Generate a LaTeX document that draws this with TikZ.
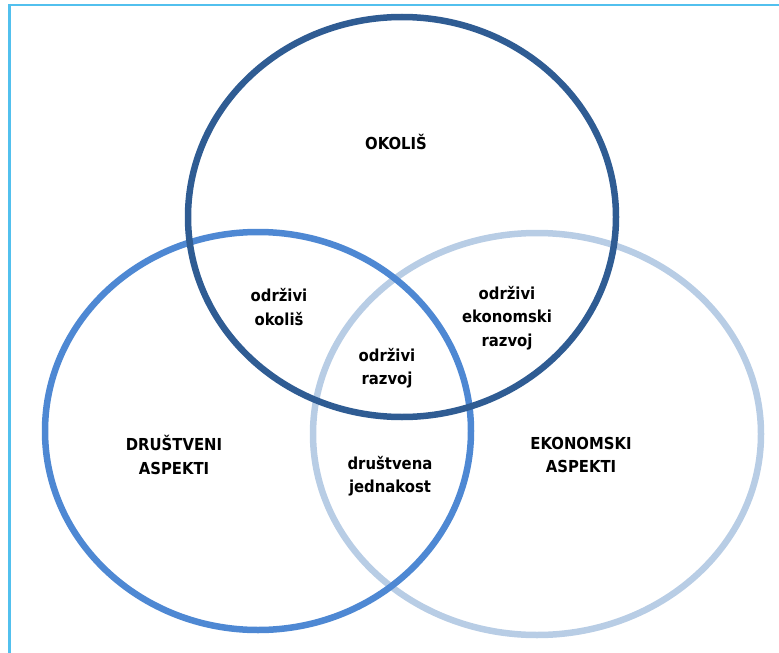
\documentclass[tikz,border=0pt]{standalone}
\usepackage{fontspec}
\setmainfont{DejaVu Sans Condensed}
\definecolor{framec}{HTML}{52C0EE}
\definecolor{darkc}{HTML}{2F5C93}
\definecolor{midc}{HTML}{4E88D3}
\definecolor{lightc}{HTML}{B8CDE5}
\tikzset{
  ring/.style={line width=6.5pt},
  lbl/.style={align=center, font=\bfseries\fontsize{16.5}{23.5}\selectfont, text=black, inner sep=0pt},
}
\begin{document}
\begin{tikzpicture}[x=1pt,y=-1pt]
\useasboundingbox (0,0) rectangle (779,653);
\draw[framec, line width=2.5pt] (9.5,653) -- (9.5,5) -- (779,5);
\draw[ring, lightc] (537,434) ellipse [x radius=224, y radius=201];
\draw[ring, midc] (258,431) ellipse [x radius=213, y radius=199];
\draw[ring, darkc] (402,217) ellipse [x radius=214, y radius=200];
\node[lbl] (okolis) at (396,142) {OKOLIŠ};
\node[lbl] (oo) at (279,307) {održivi\\okoliš};
\node[lbl] (oer) at (507,318) {održivi\\ekonomski\\razvoj};
\node[lbl] (or) at (387,368) {održivi\\razvoj};
\node[lbl] (da) at (174,455) {DRUŠTVENI\\ASPEKTI};
\node[lbl] (dj) at (390,476) {društvena\\jednakost};
\node[lbl] (ea) at (581,455) {EKONOMSKI\\ASPEKTI};
\end{tikzpicture}
\end{document}
